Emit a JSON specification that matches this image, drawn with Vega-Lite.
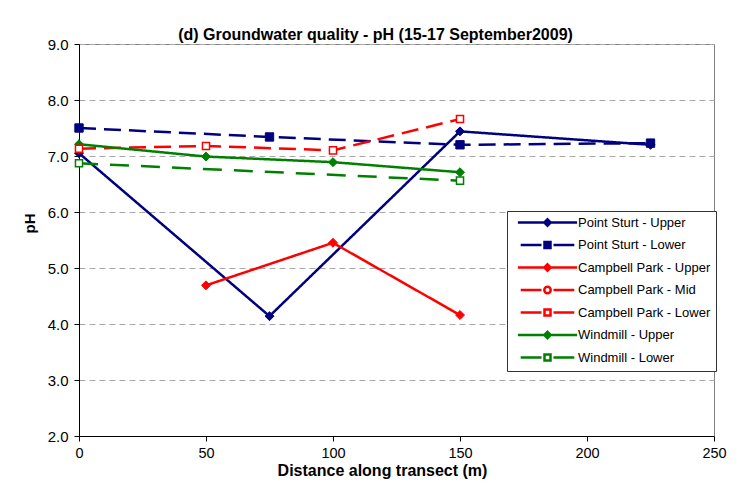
{
  "$schema": "https://vega.github.io/schema/vega-lite/v6.json",
  "autosize": {"type": "none"},
  "width": 635,
  "height": 392,
  "padding": {"left": 79, "top": 44, "right": 29, "bottom": 54},
  "background": "white",
  "title": {
    "text": "(d) Groundwater quality - pH (15-17 September2009)",
    "fontSize": 16,
    "fontWeight": "bold",
    "anchor": "middle",
    "dx": -21,
    "dy": 24,
    "baseline": "alphabetic",
    "offset": 5,
    "color": "black"
  },
  "datasets": {
    "ph": [
      {"series": "Point Sturt - Upper", "distance": 0, "pH": 7.05},
      {"series": "Point Sturt - Upper", "distance": 75, "pH": 4.14},
      {"series": "Point Sturt - Upper", "distance": 150, "pH": 7.44},
      {"series": "Point Sturt - Upper", "distance": 225, "pH": 7.2},
      {"series": "Point Sturt - Lower", "distance": 0, "pH": 7.5},
      {"series": "Point Sturt - Lower", "distance": 75, "pH": 7.34},
      {"series": "Point Sturt - Lower", "distance": 150, "pH": 7.2},
      {"series": "Point Sturt - Lower", "distance": 225, "pH": 7.23},
      {"series": "Campbell Park - Upper", "distance": 50, "pH": 4.69},
      {"series": "Campbell Park - Upper", "distance": 100, "pH": 5.45},
      {"series": "Campbell Park - Upper", "distance": 150, "pH": 4.16},
      {"series": "Campbell Park - Lower", "distance": 0, "pH": 7.13},
      {"series": "Campbell Park - Lower", "distance": 50, "pH": 7.18},
      {"series": "Campbell Park - Lower", "distance": 100, "pH": 7.1},
      {"series": "Campbell Park - Lower", "distance": 150, "pH": 7.66},
      {"series": "Windmill - Upper", "distance": 0, "pH": 7.21},
      {"series": "Windmill - Upper", "distance": 50, "pH": 6.99},
      {"series": "Windmill - Upper", "distance": 100, "pH": 6.89},
      {"series": "Windmill - Upper", "distance": 150, "pH": 6.71},
      {"series": "Windmill - Lower", "distance": 0, "pH": 6.87},
      {"series": "Windmill - Lower", "distance": 150, "pH": 6.56}
    ]
  },
  "data": {"name": "ph"},
  "encoding": {
    "x": {
      "field": "distance",
      "type": "quantitative",
      "scale": {"domain": [0, 250], "nice": false, "zero": false},
      "axis": {
        "title": "Distance along transect (m)",
        "values": [0, 50, 100, 150, 200, 250],
        "format": "d",
        "grid": false,
        "labelFlush": false,
        "labelOverlap": false,
        "labelFontSize": 14.5,
        "labelPadding": 5,
        "titleX": 303,
        "titleY": 26.5,
        "titleBaseline": "top",
        "titleAnchor": null,
        "titleFontSize": 16
      }
    },
    "y": {
      "field": "pH",
      "type": "quantitative",
      "scale": {"domain": [2, 9], "nice": false, "zero": false},
      "axis": {
        "title": "pH",
        "values": [2, 3, 4, 5, 6, 7, 8, 9],
        "format": ".1f",
        "grid": true,
        "gridColor": "#a8a8a8",
        "gridDash": [6, 4],
        "labelFontSize": 15,
        "labelPadding": 6,
        "titleX": -42,
        "titleY": 179,
        "titleAnchor": null,
        "titleFontSize": 15
      }
    }
  },
  "layer": [
    {
      "mark": {"type": "line", "strokeWidth": 2.5},
      "encoding": {
        "stroke": {
          "field": "series",
          "type": "nominal",
          "scale": {
            "domain": ["Point Sturt - Upper", "Point Sturt - Lower", "Campbell Park - Upper", "Campbell Park - Mid", "Campbell Park - Lower", "Windmill - Upper", "Windmill - Lower"],
            "range": ["#000080", "#000080", "#ff0000", "#ff0000", "#ff0000", "#008000", "#008000"]
          },
          "legend": null
        },
        "strokeDash": {
          "field": "series",
          "type": "nominal",
          "scale": {
            "domain": ["Point Sturt - Upper", "Point Sturt - Lower", "Campbell Park - Upper", "Campbell Park - Mid", "Campbell Park - Lower", "Windmill - Upper", "Windmill - Lower"],
            "range": [[1, 0], [17, 8], [1, 0], [17, 8], [17, 8], [1, 0], [19, 12]]
          },
          "legend": null
        }
      }
    },
    {
      "transform": [{"filter": {"field": "series", "oneOf": ["Point Sturt - Upper", "Campbell Park - Upper", "Windmill - Upper"]}}],
      "mark": {"type": "point", "shape": "diamond", "size": 80, "strokeWidth": 1, "opacity": 1},
      "encoding": {
        "stroke": {
          "field": "series",
          "type": "nominal",
          "scale": {
            "domain": ["Point Sturt - Upper", "Point Sturt - Lower", "Campbell Park - Upper", "Campbell Park - Mid", "Campbell Park - Lower", "Windmill - Upper", "Windmill - Lower"],
            "range": ["#000080", "#000080", "#ff0000", "#ff0000", "#ff0000", "#008000", "#008000"]
          },
          "legend": null
        },
        "fill": {
          "field": "series",
          "type": "nominal",
          "scale": {
            "domain": ["Point Sturt - Upper", "Point Sturt - Lower", "Campbell Park - Upper", "Campbell Park - Mid", "Campbell Park - Lower", "Windmill - Upper", "Windmill - Lower"],
            "range": ["#000080", "#000080", "#ff0000", "#ffffff", "#ffffff", "#008000", "#ffffff"]
          },
          "legend": null
        }
      }
    },
    {
      "transform": [{"filter": {"field": "series", "equal": "Point Sturt - Lower"}}],
      "mark": {"type": "point", "shape": "square", "size": 70, "strokeWidth": 1, "opacity": 1},
      "encoding": {
        "stroke": {
          "field": "series",
          "type": "nominal",
          "scale": {
            "domain": ["Point Sturt - Upper", "Point Sturt - Lower", "Campbell Park - Upper", "Campbell Park - Mid", "Campbell Park - Lower", "Windmill - Upper", "Windmill - Lower"],
            "range": ["#000080", "#000080", "#ff0000", "#ff0000", "#ff0000", "#008000", "#008000"]
          },
          "legend": null
        },
        "fill": {
          "field": "series",
          "type": "nominal",
          "scale": {
            "domain": ["Point Sturt - Upper", "Point Sturt - Lower", "Campbell Park - Upper", "Campbell Park - Mid", "Campbell Park - Lower", "Windmill - Upper", "Windmill - Lower"],
            "range": ["#000080", "#000080", "#ff0000", "#ffffff", "#ffffff", "#008000", "#ffffff"]
          },
          "legend": null
        }
      }
    },
    {
      "transform": [{"filter": {"field": "series", "oneOf": ["Campbell Park - Lower", "Windmill - Lower"]}}],
      "mark": {"type": "point", "shape": "square", "size": 50, "strokeWidth": 1.5, "opacity": 1},
      "encoding": {
        "stroke": {
          "field": "series",
          "type": "nominal",
          "scale": {
            "domain": ["Point Sturt - Upper", "Point Sturt - Lower", "Campbell Park - Upper", "Campbell Park - Mid", "Campbell Park - Lower", "Windmill - Upper", "Windmill - Lower"],
            "range": ["#000080", "#000080", "#ff0000", "#ff0000", "#ff0000", "#008000", "#008000"]
          },
          "legend": null
        },
        "fill": {
          "field": "series",
          "type": "nominal",
          "scale": {
            "domain": ["Point Sturt - Upper", "Point Sturt - Lower", "Campbell Park - Upper", "Campbell Park - Mid", "Campbell Park - Lower", "Windmill - Upper", "Windmill - Lower"],
            "range": ["#000080", "#000080", "#ff0000", "#ffffff", "#ffffff", "#008000", "#ffffff"]
          },
          "legend": null
        }
      }
    },
    {
      "transform": [{"filter": "false"}],
      "mark": {"type": "point", "strokeWidth": 2.5, "opacity": 1},
      "encoding": {
        "stroke": {
          "field": "series",
          "type": "nominal",
          "scale": {
            "domain": ["Point Sturt - Upper", "Point Sturt - Lower", "Campbell Park - Upper", "Campbell Park - Mid", "Campbell Park - Lower", "Windmill - Upper", "Windmill - Lower"],
            "range": ["#000080", "#000080", "#ff0000", "#ff0000", "#ff0000", "#008000", "#008000"]
          }
        },
        "fill": {
          "field": "series",
          "type": "nominal",
          "scale": {
            "domain": ["Point Sturt - Upper", "Point Sturt - Lower", "Campbell Park - Upper", "Campbell Park - Mid", "Campbell Park - Lower", "Windmill - Upper", "Windmill - Lower"],
            "range": ["#000080", "#000080", "#ff0000", "#ffffff", "#ffffff", "#008000", "#ffffff"]
          }
        },
        "shape": {
          "field": "series",
          "type": "nominal",
          "scale": {
            "domain": ["Point Sturt - Upper", "Point Sturt - Lower", "Campbell Park - Upper", "Campbell Park - Mid", "Campbell Park - Lower", "Windmill - Upper", "Windmill - Lower"],
            "range": [
              "M-7.4,0L7.4,0M0,-0.8L0.8,0L0,0.8L-0.8,0Z",
              "M-6.7,0L-1.5,0M1.5,0L6.7,0M-0.75,-0.75L0.75,-0.75L0.75,0.75L-0.75,0.75Z",
              "M-7.4,0L7.4,0M0,-0.8L0.8,0L0,0.8L-0.8,0Z",
              "M-6.7,0L-1.5,0M1.5,0L6.7,0M-0.8,0A0.8,0.8,0,1,0,0.8,0A0.8,0.8,0,1,0,-0.8,0Z",
              "M-6.7,0L-1.5,0M1.5,0L6.7,0M-0.75,-0.75L0.75,-0.75L0.75,0.75L-0.75,0.75Z",
              "M-7.4,0L7.4,0M0,-0.8L0.8,0L0,0.8L-0.8,0Z",
              "M-6.7,0L-1.5,0M1.5,0L6.7,0M-0.75,-0.75L0.75,-0.75L0.75,0.75L-0.75,0.75Z"
            ]
          }
        }
      }
    }
  ],
  "resolve": {
    "scale": {"stroke": "independent", "fill": "independent", "strokeDash": "independent", "shape": "independent"}
  },
  "config": {
    "font": "Liberation Sans",
    "view": {"stroke": "#808080", "strokeWidth": 1},
    "axis": {
      "domainColor": "black",
      "domainWidth": 1,
      "tickColor": "black",
      "tickSize": 5,
      "tickWidth": 1,
      "labelColor": "black",
      "labelFont": "Liberation Sans",
      "titleFont": "Liberation Sans",
      "titleFontWeight": "bold",
      "titleColor": "black"
    },
    "legend": {
      "orient": "none",
      "legendX": 428,
      "legendY": 167,
      "title": null,
      "labelFontSize": 13,
      "labelColor": "black",
      "labelFont": "Liberation Sans",
      "symbolSize": 64,
      "symbolStrokeWidth": 2.5,
      "symbolOpacity": 1,
      "symbolOffset": 29,
      "labelOffset": 24,
      "rowPadding": 5.5,
      "padding": 5,
      "strokeColor": "#333333",
      "fillColor": "white"
    }
  }
}
